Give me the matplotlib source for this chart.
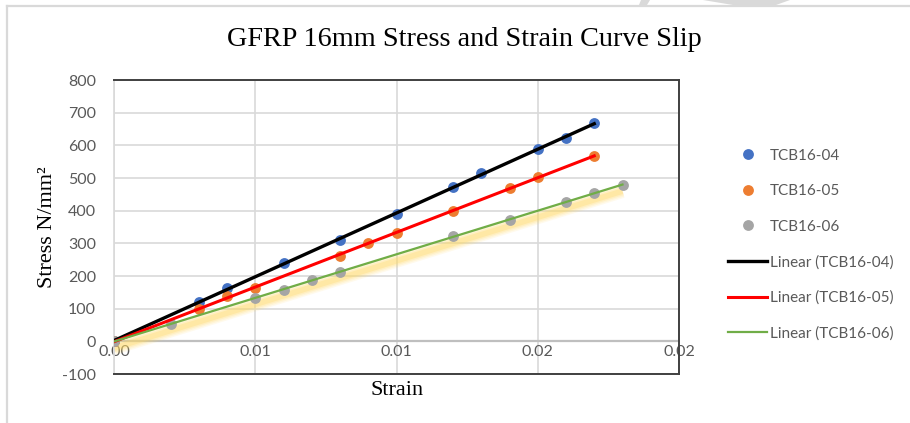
import matplotlib.pyplot as plt
import numpy as np
from matplotlib.patches import Polygon
from matplotlib.lines import Line2D

# данные
strain_04 = [0, 0.003, 0.004, 0.006, 0.008, 0.010, 0.012, 0.013, 0.015, 0.016, 0.017]
stress_04 = [0, 119, 163, 241, 309, 390, 471, 514, 588, 623, 669]

strain_05 = [0, 0.003, 0.004, 0.005, 0.008, 0.009, 0.010, 0.012, 0.014, 0.015, 0.017]
stress_05 = [0, 100, 138, 162, 261, 300, 332, 400, 468, 504, 568]

strain_06 = [0, 0.002, 0.005, 0.006, 0.007, 0.008, 0.012, 0.014, 0.016, 0.017, 0.018]
stress_06 = [0, 54, 133, 156, 187, 213, 322, 371, 428, 455, 478]

labels = ['TCB16-04', 'TCB16-05', 'TCB16-06']
x_ticks = [0, 0.005, 0.01, 0.015, 0.02]
x_tick_labels = ['0.00', '0.01', '0.01', '0.02', '0.02']
y_ticks = [-100, 0, 100, 200, 300, 400, 500, 600, 700, 800]

# цвета
point_colors = ['#4472C4', '#ED7D31', '#A5A5A5']
trend_colors = ['#000000', '#FF0000', '#70AD47']
trend_widths = [2.4, 2.2, 1.6]
text_gray = '#595959'
grid_gray = '#D9D9D9'

plt.rcParams['axes.unicode_minus'] = False

fig = plt.figure(figsize=(9.1, 4.23), dpi=100)
W, H = 910, 423

# рамка страницы и водяной знак
fig.add_artist(Line2D([7 / W, 1], [1 - 6 / H, 1 - 6 / H], color='#D9D9D9', lw=1.6))
fig.add_artist(Line2D([7 / W, 7 / W], [0, 1 - 6 / H], color='#D9D9D9', lw=1.6))
for poly in ([(641, 0), (650, 0), (647, 5), (639, 5)],
             [(703, 0), (790, 0), (776, 5), (733, 5)]):
    fig.add_artist(Polygon([(px / W, 1 - py / H) for px, py in poly], closed=True,
                           facecolor='#D9D9D9', edgecolor='none', transform=fig.transFigure))

ax = fig.add_axes([114 / W, 1 - 374 / H, (679 - 114) / W, (374 - 80) / H])

series = [(strain_04, stress_04), (strain_05, stress_05), (strain_06, stress_06)]

# точки
for (sx, sy), c, lab in zip(series, point_colors, labels):
    ax.plot(sx, sy, 'o', color=c, markersize=7.8, markeredgewidth=0, label=lab, zorder=4)

# линейные тренды
fits = []
for (sx, sy), c, lw, lab in zip(series, trend_colors, trend_widths, labels):
    k, b = np.polyfit(sx, sy, 1)
    fits.append((k, b))
    xx = np.array([min(sx), max(sx)])
    ax.plot(xx, k * xx + b, color=c, lw=lw, label='Linear (%s)' % lab, zorder=5)

# жёлтое свечение под зелёной линией
k, b = fits[2]
xx = np.array([min(strain_06), max(strain_06)])
for lw, a in [(10, 0.12), (8, 0.15), (6, 0.2), (4, 0.3)]:
    ax.plot(xx, k * xx + b - 20, color='#FFD966', lw=lw, alpha=a,
            solid_capstyle='butt', zorder=2)

ax.set_xlim(0, 0.02)
ax.set_ylim(-100, 800)
ax.set_xticks(x_ticks)
ax.set_xticklabels(x_tick_labels)
ax.set_yticks(y_ticks)
ax.grid(True, color=grid_gray, lw=1.2, zorder=0)
ax.set_axisbelow(True)
ax.axhline(0, color='#BFBFBF', lw=1.6, zorder=1)

for side in ['top', 'right', 'bottom']:
    ax.spines[side].set_color('#404040')
    ax.spines[side].set_linewidth(1.4)
ax.spines['left'].set_color(grid_gray)
ax.spines['left'].set_linewidth(1.2)

ax.tick_params(length=0, labelcolor=text_gray, labelsize=11.5)
ax.tick_params(axis='x', pad=-21)
ax.tick_params(axis='y', pad=13)
for t in ax.get_xticklabels() + ax.get_yticklabels():
    t.set_family('Lato')

fig.text(464 / W, 1 - 40 / H, 'GFRP 16mm Stress and Strain Curve Slip',
         family='Liberation Serif', fontsize=20.3, ha='center', va='center')
fig.text(397 / W, 1 - 390 / H, 'Strain', family='Liberation Serif', fontsize=16,
         ha='center', va='center')
fig.text(48 / W, 1 - 227 / H, 'Stress N/mm²', family='Liberation Serif', fontsize=16,
         ha='center', va='center', rotation=90)

handles, labs = ax.get_legend_handles_labels()
leg = fig.legend(handles, labs, loc='upper left', bbox_to_anchor=(714 / W, 1 - 135 / H),
                 frameon=False, handlelength=2.6, handletextpad=0.15, labelspacing=1.4,
                 prop={'family': 'Lato', 'size': 11})
for t in leg.get_texts():
    t.set_color(text_gray)

fig.savefig('out.png', dpi=100)
